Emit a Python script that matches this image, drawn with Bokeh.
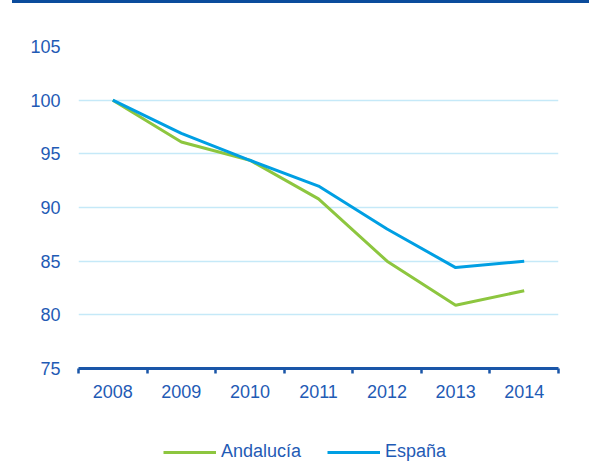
from bokeh.plotting import figure
from bokeh.models import Range1d, FixedTicker, Legend, LegendItem, Div, Column
from bokeh.embed import file_html
from bokeh.resources import INLINE

years = [2008, 2009, 2010, 2011, 2012, 2013, 2014]
year_labels = ["2008", "2009", "2010", "2011", "2012", "2013", "2014"]
andalucia = [100.0, 96.1, 94.4, 90.8, 85.0, 80.9, 82.25]
espana = [100.0, 96.9, 94.4, 92.0, 88.0, 84.4, 85.0]
y_ticks = [75, 80, 85, 90, 95, 100, 105]

TEXT = "#1F5BB5"
AXIS = "#1A56A8"
GREEN = "#8DC63F"
BLUE = "#009FE3"
GRID = "#C5E9F8"
FONT = "Liberation Sans"
FS = "18px"

p = figure(width=589, height=419, output_backend="svg", toolbar_location=None,
           x_range=Range1d(years[0] - 0.5, years[-1] + 0.5), y_range=Range1d(75, 105),
           min_border_left=78, min_border_right=31, min_border_top=43, min_border_bottom=54)
p.outline_line_color = None

p.line(years, andalucia, line_color=GREEN, line_width=3)
p.line(years, espana, line_color=BLUE, line_width=3)

bounds = [y - 0.5 for y in years] + [years[-1] + 0.5]
p.xaxis.ticker = FixedTicker(ticks=years, minor_ticks=bounds)
p.xaxis.major_label_overrides = {y: l for y, l in zip(years, year_labels)}
p.xaxis.major_tick_out = 0
p.xaxis.major_tick_in = 0
p.xaxis.minor_tick_out = 5
p.xaxis.minor_tick_in = 0
p.xaxis.minor_tick_line_color = AXIS
p.xaxis.minor_tick_line_width = 2.5
p.xaxis.axis_line_color = AXIS
p.xaxis.axis_line_width = 3
p.xaxis.major_label_standoff = 11
p.xaxis.major_label_text_color = TEXT
p.xaxis.major_label_text_font = FONT
p.xaxis.major_label_text_font_size = FS
p.xgrid.grid_line_color = None

p.yaxis.ticker = FixedTicker(ticks=y_ticks)
p.yaxis.axis_line_color = None
p.yaxis.major_tick_line_color = None
p.yaxis.minor_tick_line_color = None
p.yaxis.major_label_standoff = 12
p.yaxis.major_label_text_color = TEXT
p.yaxis.major_label_text_font = FONT
p.yaxis.major_label_text_font_size = FS
p.ygrid.grid_line_color = GRID
p.ygrid.grid_line_width = 1.5

# legend strip below the chart (its frame is aligned with the chart's frame)
p2 = figure(width=589, height=40, output_backend="svg", toolbar_location=None,
            x_range=Range1d(0, 1), y_range=Range1d(0, 1),
            min_border_left=0, min_border_right=0, min_border_top=0, min_border_bottom=0)
p2.outline_line_color = None
p2.axis.visible = False
p2.grid.grid_line_color = None
g1 = p2.line(years, andalucia, line_color=GREEN, line_width=3)
g2 = p2.line(years, espana, line_color=BLUE, line_width=3)

legend = Legend(items=[LegendItem(label="Andalucía", renderers=[g1]),
                       LegendItem(label="España", renderers=[g2])],
                orientation="horizontal", location=(85, 0),
                glyph_width=53, glyph_height=20, label_height=20, label_standoff=5,
                spacing=26, padding=0, margin=0, border_line_color=None,
                background_fill_alpha=0,
                label_text_color=TEXT, label_text_font=FONT, label_text_font_size=FS)
p2.add_layout(legend, "center")

bar = Div(width=577, height=3, margin=(0, 0, 0, 12),
          styles={"background-color": "#0B4C9C"})
layout = Column(bar, p, p2, spacing=0)

open("out.html", "w").write(file_html(layout, INLINE))
